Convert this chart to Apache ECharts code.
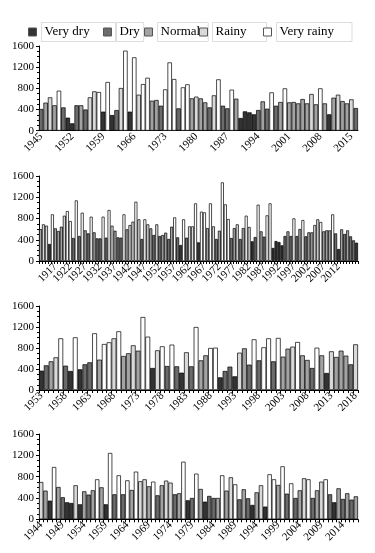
<!DOCTYPE html>
<html><head><meta charset="utf-8">
<script src="https://cdn.jsdelivr.net/npm/echarts@6/dist/echarts.min.js"></script>
<style>html,body{margin:0;padding:0;background:#fff}#c{width:375px;height:553px}</style>
</head><body><div id="c"></div>
<script>
const categoryNames = ['Very dry', 'Dry', 'Normal', 'Rainy', 'Very rainy'];
const categoryColors = ['#333333', '#6b6b6b', '#a3a3a3', '#d9d9d9', '#ffffff'];
const yTicks = [0, 400, 800, 1200, 1600];

// Panel 1: 1945-2016
const startYear1 = 1945;
const values1 = [410,530,630,480,756,440,246,139,480,480, 400,630,743,730,360,920,296,390,806,1512,
  360,1386,680,880,1000,567,580,472,781,1290, 976,422,819,876,611,643,611,535,441,668,
  970,472,422,775,605,240,365,346,309,390, 554,416,724,472,542,800,535,542,516,598,
  516,693,498,800,516,309,624,680,560,516, 592,428];
const cats1 = "1232410012" + "1334040134" + "0434422144" + "4144232213" + "4114200001" + "2141242" + "222232420232231";

// Panel 2: 1912-2018
const startYear2 = 1912;
const values2 = [600,690,665,320,878,615,564,646,853,940, 752,433,1141,470,909,577,520,834,539,426,
  426,834,439,960,665,570,445,439,878,596, 677,740,1116,784,414,784,690,615,489,690,
  470,489,533,414,646,821,445,301,784,439,652,
  652,1085,351,928,915,620,1085,652,414,570, 1480,1066,790,433,620,690,414,620,853,640,
  370,451,1060,558,458,859,1085,245,376,357, 295,470,558,470,802,470,602,771,464,539,
  539,677,784,734,558,577,577,878,520,226, 596,508,577,464,389,345];
const cats2 = "2330422234" + "4141421421" + "1414321142" + "3343143213" + "12212410413" +
  "3404424312" + "4441231243" + "0142144000" + "0121412412" + "2334222410" + "212110";

// Panel 3: 1953-2018
const startYear3 = 1953;
const values3 = [368,470,546,622,984,463,362,1003,394,489, 527,1080,578,876,908,984,1118,648,699,851,
  749,1390,1016,419,756,832,457,864,451,330, 718,451,1200,565,660,800,806,241,362,445,
  260,711,794,483,965,565,813,984,546,991, 635,787,826,914,660,572,419,806,660,324,
  737,629,749,654,489,870];
const cats3 = "0123410401" + "1424434223" + "2440341410" + "3142244011" + "0321414414" + "2234221420" + "322213";

// Panel 4: 1944-2017
const startYear4 = 1944;
const values4 = [700,538,350,981,606,413,319,306,638,281, 525,463,544,750,600,281,1244,469,825,469,
  731,550,894,713,750,619,706,450,638,725, 688,469,488,1081,356,400,856,569,331,438,
  400,400,825,538,788,656,375,563,394,269, 506,638,238,844,750,644,994,481,675,400,
  544,769,750,400,544,706,750,469,319,581, 381,488,369,431];
const cats4 = "3204210030" + "2124204141" + "4243324123" + "3124014201" + "1242341210" + "2304424141" + "2341234102" + "1212";

const panels = [
  {start: startYear1, values: values1, cats: cats1, top: 46, height: 84.7, labelInterval: 6, ticks: false},
  {start: startYear2, values: values2, cats: cats2, top: 176, height: 85, labelInterval: 4, ticks: true},
  {start: startYear3, values: values3, cats: cats3, top: 306, height: 84, labelInterval: 4, ticks: true},
  {start: startYear4, values: values4, cats: cats4, top: 434, height: 85.3, labelInterval: 4, ticks: true}
];

const FONT = 'Liberation Serif';
const grids = [], xAxes = [], yAxes = [], series = [];
panels.forEach((p, i) => {
  const years = p.values.map((_, k) => String(p.start + k));
  grids.push({left: 39, right: 17, top: p.top, height: p.height});
  xAxes.push({
    type: 'category', gridIndex: i, data: years,
    axisLine: {lineStyle: {color: '#000', width: 1}},
    axisTick: {show: p.ticks, interval: 0, length: 3, lineStyle: {color: '#000'}},
    axisLabel: {interval: p.labelInterval, rotate: 45, fontFamily: FONT, fontSize: 11, color: '#000', margin: 4}
  });
  yAxes.push({
    type: 'value', gridIndex: i, min: yTicks[0], max: yTicks[yTicks.length - 1], interval: 400,
    axisLine: {show: true, lineStyle: {color: '#000', width: 1}},
    axisTick: {show: true, length: 3, lineStyle: {color: '#000'}},
    minorTick: {show: true, splitNumber: 4, length: 2, lineStyle: {color: '#000'}},
    splitLine: {show: false},
    axisLabel: {fontFamily: FONT, fontSize: 11, color: '#000', margin: 5, formatter: v => String(v)}
  });
  categoryNames.forEach((name, c) => {
    series.push({
      type: 'bar', name, xAxisIndex: i, yAxisIndex: i, stack: 'p' + i,
      barCategoryGap: '0%',
      itemStyle: {color: categoryColors[c], borderColor: '#000', borderWidth: 0.7},
      emphasis: {disabled: true},
      data: p.values.map((v, k) => Number(p.cats[k]) === c ? v : '-')
    });
  });
});

const legendLefts = [23, 98, 139, 194, 258];
const legends = categoryNames.map((name, c) => ({
  data: [name], left: legendLefts[c], top: 17, itemWidth: 8, itemHeight: 8, itemGap: 0,
  icon: 'rect',
  itemStyle: {borderColor: '#555', borderWidth: 1},
  textStyle: {fontFamily: FONT, fontSize: 13, color: '#000',
    borderColor: '#dddddd', borderWidth: 1, padding: [3, [26, 4, 8, 20, 18][c], 3, 3]},
  selectedMode: false
}));

const chart = echarts.init(document.getElementById('c'), null, {renderer: 'canvas'});
chart.setOption({
  animation: false,
  backgroundColor: '#fff',
  legend: legends,
  grid: grids, xAxis: xAxes, yAxis: yAxes, series
});
</script></body></html>
